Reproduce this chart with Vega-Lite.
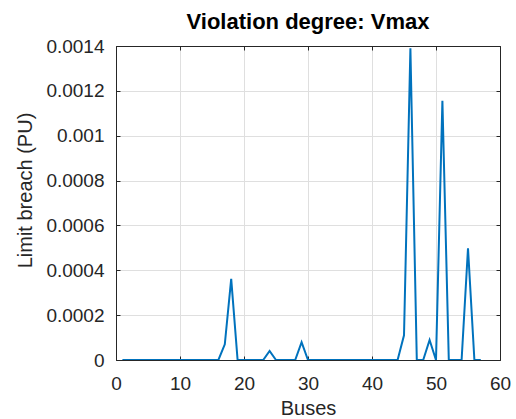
{
  "$schema": "https://vega.github.io/schema/vega-lite/v6.json",
  "width": 384,
  "height": 314,
  "autosize": {"type": "none"},
  "padding": {"left": 116, "top": 46, "right": 16, "bottom": 59},
  "background": "white",
  "config": {
    "font": "Liberation Sans",
    "view": {"stroke": "#262626", "strokeWidth": 1},
    "axis": {
      "labelFont": "Liberation Sans",
      "titleFont": "Liberation Sans",
      "labelColor": "#262626",
      "titleColor": "#262626",
      "labelFontSize": 19,
      "titleFontSize": 20,
      "titleFontWeight": "normal",
      "domainColor": "#262626",
      "tickColor": "#262626",
      "gridColor": "#dfdfdf",
      "gridOpacity": 1
    }
  },
  "title": {
    "text": "Violation degree: Vmax",
    "font": "Liberation Sans",
    "fontSize": 22,
    "fontWeight": "bold",
    "color": "#000000",
    "anchor": "middle",
    "frame": "group",
    "baseline": "alphabetic",
    "offset": 17,
    "dy": 31
  },
  "data": {
    "values": [
      {"bus": 1, "breach": 0}, {"bus": 2, "breach": 0}, {"bus": 3, "breach": 0},
      {"bus": 4, "breach": 0}, {"bus": 5, "breach": 0}, {"bus": 6, "breach": 0},
      {"bus": 7, "breach": 0}, {"bus": 8, "breach": 0}, {"bus": 9, "breach": 0},
      {"bus": 10, "breach": 0}, {"bus": 11, "breach": 0}, {"bus": 12, "breach": 0},
      {"bus": 13, "breach": 0}, {"bus": 14, "breach": 0}, {"bus": 15, "breach": 0},
      {"bus": 16, "breach": 0}, {"bus": 17, "breach": 0.00007}, {"bus": 18, "breach": 0.000362},
      {"bus": 19, "breach": 0}, {"bus": 20, "breach": 0}, {"bus": 21, "breach": 0},
      {"bus": 22, "breach": 0}, {"bus": 23, "breach": 0}, {"bus": 24, "breach": 0.00004},
      {"bus": 25, "breach": 0}, {"bus": 26, "breach": 0}, {"bus": 27, "breach": 0},
      {"bus": 28, "breach": 0}, {"bus": 29, "breach": 0.000079}, {"bus": 30, "breach": 0},
      {"bus": 31, "breach": 0}, {"bus": 32, "breach": 0}, {"bus": 33, "breach": 0},
      {"bus": 34, "breach": 0}, {"bus": 35, "breach": 0}, {"bus": 36, "breach": 0},
      {"bus": 37, "breach": 0}, {"bus": 38, "breach": 0}, {"bus": 39, "breach": 0},
      {"bus": 40, "breach": 0}, {"bus": 41, "breach": 0}, {"bus": 42, "breach": 0},
      {"bus": 43, "breach": 0}, {"bus": 44, "breach": 0}, {"bus": 45, "breach": 0.00011},
      {"bus": 46, "breach": 0.00139}, {"bus": 47, "breach": 0}, {"bus": 48, "breach": 0},
      {"bus": 49, "breach": 0.000089}, {"bus": 50, "breach": 0}, {"bus": 51, "breach": 0.001156},
      {"bus": 52, "breach": 0}, {"bus": 53, "breach": 0}, {"bus": 54, "breach": 0},
      {"bus": 55, "breach": 0.000498}, {"bus": 56, "breach": 0}, {"bus": 57, "breach": 0}
    ]
  },
  "layer": [
    {
      "mark": {"type": "line", "color": "#0072BD", "strokeWidth": 2, "clip": true},
      "encoding": {
        "x": {
          "field": "bus", "type": "quantitative",
          "scale": {"domain": [0, 60], "nice": false, "zero": false},
          "axis": {
            "orient": "bottom", "values": [0, 10, 20, 30, 40, 50, 60],
            "title": "Buses", "grid": true, "tickSize": -4,
            "labelPadding": 18, "labelBaseline": "top", "labelFlush": false,
            "titleX": 192, "titleY": 54, "titleBaseline": "alphabetic", "titleAnchor": "middle", "titlePadding": 0
          }
        },
        "y": {
          "field": "breach", "type": "quantitative",
          "scale": {"domain": [0, 0.0014], "nice": false},
          "axis": {
            "orient": "left", "values": [0, 0.0002, 0.0004, 0.0006, 0.0008, 0.001, 0.0012, 0.0014],
            "format": "~g", "title": "Limit breach (PU)", "grid": true, "tickSize": -4,
            "labelPadding": 16, "labelFlush": false,
            "titleX": -91, "titleY": 144, "titleAngle": -90, "titleAlign": "center", "titleBaseline": "middle", "titleAnchor": "middle"
          }
        }
      }
    },
    {
      "mark": {"type": "line", "color": "#0072BD", "strokeWidth": 2, "opacity": 0},
      "encoding": {
        "x": {
          "field": "bus", "type": "quantitative",
          "axis": {"orient": "top", "values": [0, 10, 20, 30, 40, 50, 60], "labels": false, "title": null, "grid": false, "tickSize": -4}
        },
        "y": {
          "field": "breach", "type": "quantitative",
          "axis": {"orient": "right", "values": [0, 0.0002, 0.0004, 0.0006, 0.0008, 0.001, 0.0012, 0.0014], "labels": false, "title": null, "grid": false, "tickSize": -4}
        }
      }
    }
  ]
}
